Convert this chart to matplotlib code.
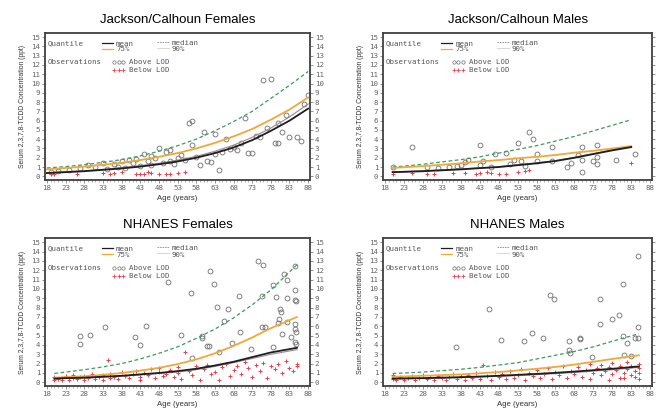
import matplotlib
matplotlib.use('Agg')
import matplotlib.pyplot as plt
from matplotlib.ticker import MultipleLocator

plt.rcParams['font.family'] = ['Liberation Sans', 'DejaVu Sans']
MONO = ['DejaVu Sans Mono']

# ---- quantile curves (at 5-year steps) ----
jcf_age = [18, 23, 28, 33, 38, 43, 48, 53, 58, 63, 68, 73, 78, 83, 88]
jcf_mean = [0.35, 0.45, 0.55, 0.7, 0.85, 1.05, 1.3, 1.6, 2.0, 2.5, 3.1, 3.9, 4.9, 6.0, 7.3]
jcf_median = [0.4, 0.5, 0.6, 0.75, 0.95, 1.15, 1.4, 1.75, 2.15, 2.7, 3.35, 4.2, 5.2, 6.4, 7.8]
jcf_p75 = [0.75, 0.9, 1.05, 1.25, 1.45, 1.75, 2.1, 2.5, 3.0, 3.6, 4.3, 5.1, 6.1, 7.2, 8.5]
jcf_p90 = [0.9, 1.05, 1.25, 1.5, 1.8, 2.2, 2.7, 3.3, 4.0, 4.9, 5.9, 7.0, 8.4, 9.8, 11.3]

jcm_age = [20, 23, 28, 33, 38, 43, 48, 53, 58, 63, 68, 73, 78, 83]
jcm_mean = [0.45, 0.48, 0.55, 0.65, 0.75, 0.88, 1.0, 1.2, 1.4, 1.65, 2.0, 2.4, 2.8, 3.15]
jcm_median = [0.5, 0.53, 0.6, 0.7, 0.8, 0.92, 1.05, 1.25, 1.45, 1.7, 2.05, 2.45, 2.85, 3.2]
jcm_p75 = [0.9, 0.98, 1.1, 1.25, 1.4, 1.6, 1.75, 1.95, 2.1, 2.3, 2.55, 2.75, 3.0, 3.25]
jcm_p90 = [1.0, 1.1, 1.3, 1.55, 1.8, 2.1, 2.5, 2.9, 3.3, 3.8, 4.3, 4.9, 5.5, 6.1]

nhf_age = [20, 23, 28, 33, 38, 43, 48, 53, 58, 63, 68, 73, 78, 85]
nhf_mean = [0.4, 0.45, 0.5, 0.6, 0.7, 0.85, 1.0, 1.2, 1.45, 1.8, 2.2, 2.7, 3.2, 3.7]
nhf_median = [0.35, 0.4, 0.45, 0.55, 0.65, 0.8, 0.95, 1.1, 1.35, 1.7, 2.1, 2.55, 3.0, 3.5]
nhf_p75 = [0.5, 0.55, 0.65, 0.8, 1.0, 1.25, 1.55, 1.95, 2.45, 3.1, 3.9, 4.8, 5.8, 7.0]
nhf_p90 = [0.95, 1.1, 1.35, 1.65, 2.0, 2.5, 3.1, 3.8, 4.7, 5.7, 6.9, 8.3, 9.9, 12.6]

nhm_age = [20, 23, 28, 33, 38, 43, 48, 53, 58, 63, 68, 73, 78, 85]
nhm_mean = [0.4, 0.42, 0.45, 0.5, 0.55, 0.62, 0.7, 0.8, 0.9, 1.02, 1.15, 1.3, 1.45, 1.7]
nhm_median = [0.35, 0.37, 0.4, 0.45, 0.5, 0.56, 0.64, 0.72, 0.82, 0.93, 1.05, 1.2, 1.35, 1.6]
nhm_p75 = [0.6, 0.63, 0.7, 0.77, 0.85, 0.97, 1.1, 1.27, 1.45, 1.65, 1.9, 2.2, 2.5, 2.9]
nhm_p90 = [0.95, 1.0, 1.1, 1.25, 1.4, 1.6, 1.85, 2.1, 2.5, 2.9, 3.3, 3.8, 4.4, 5.2]

# ---- observations (age, ppt) ----
jcf_above = [(19, 0.5), (21, 0.6), (24, 0.7), (27, 0.9), (29, 1.2), (31, 1.0), (33, 1.4), (34, 0.8),
             (36, 1.3), (37, 1.0), (38, 1.6), (39, 0.9), (40, 1.8), (41, 1.4), (42, 1.9), (43, 1.1),
             (44, 2.4), (45, 1.6), (46, 2.2), (46, 1.2), (47, 2.0), (48, 3.0), (49, 1.4), (50, 2.6),
             (51, 2.8), (51, 1.6), (52, 1.3), (53, 2.0), (54, 2.3), (55, 1.8), (56, 5.7), (57, 6.0),
             (57, 3.4), (58, 2.1), (59, 1.2), (60, 4.8), (61, 1.6), (62, 1.5), (63, 4.6), (63, 2.4),
             (64, 0.7), (65, 2.6), (66, 4.0), (67, 2.9), (68, 3.2), (69, 2.8), (70, 3.6), (71, 6.3),
             (72, 2.5), (73, 2.5), (74, 4.4), (75, 4.2), (76, 10.4), (77, 5.2), (78, 10.5), (79, 3.6),
             (80, 3.6), (80, 5.8), (81, 4.8), (82, 6.6), (83, 4.2), (85, 4.2), (86, 3.8), (87, 7.8),
             (88, 8.8)]
jcf_below = [(19, 0.3), (20, 0.25), (26, 0.3), (33, 0.4), (35, 0.3), (36, 0.4), (38, 0.5), (42, 0.3),
             (43, 0.25), (44, 0.3), (45, 0.45), (46, 0.35), (48, 0.3), (50, 0.2), (51, 0.3), (53, 0.4),
             (55, 0.5)]

jcm_above = [(20, 1.0), (25, 3.2), (29, 1.0), (32, 0.9), (35, 1.0), (37, 1.1), (38, 1.2), (39, 1.5),
             (40, 1.8), (43, 3.4), (43, 1.2), (44, 1.6), (46, 1.0), (47, 2.4), (50, 2.5), (51, 1.3),
             (52, 1.8), (53, 3.6), (54, 1.7), (55, 1.1), (56, 4.8), (57, 4.0), (58, 1.6), (58, 2.4),
             (62, 3.2), (62, 1.7), (66, 1.0), (67, 1.4), (69, 2.3), (70, 3.2), (70, 1.8), (70, 0.5),
             (73, 1.6), (74, 3.4), (74, 1.3), (74, 2.1), (79, 1.8), (84, 2.4)]
jcm_below = [(20, 0.3), (25, 0.35), (29, 0.3), (31, 0.2), (36, 0.4), (39, 0.35), (42, 0.3), (43, 0.35),
             (45, 0.5), (46, 0.35), (48, 0.25), (50, 0.3), (53, 0.5), (55, 0.6), (56, 0.7), (83, 1.4)]

nhf_above = [(27, 5.0), (29.5, 5.1), (27, 4.1), (33.5, 5.9), (41.5, 4.9), (43, 4.0), (44.5, 6.0),
             (50.5, 10.7), (54, 5.1), (56.5, 9.6), (57, 2.6), (59.5, 5.0), (59.5, 4.7), (61, 3.9),
             (61.5, 3.9), (61.8, 11.9), (62.7, 10.5), (63.6, 8.1), (64, 3.2), (65.4, 6.6), (66.6, 7.9),
             (67.6, 4.2), (69.6, 9.2), (69.8, 5.4), (72.7, 3.6), (74.6, 13.0), (75.8, 12.6), (75.5, 5.9),
             (76.5, 5.9), (75.7, 9.3), (78.6, 10.4), (78.5, 3.8), (79.5, 9.1), (80.5, 7.9), (80.8, 7.5),
             (80.2, 6.8), (80.0, 6.4), (81.0, 5.2), (81.6, 11.6), (82.4, 11.0), (82.4, 6.5), (82.2, 9.0),
             (84.5, 12.5), (84.5, 9.9), (84.5, 8.8), (84.8, 8.7), (84.5, 6.3), (84.5, 5.7), (84.8, 5.4),
             (84.5, 4.3), (84.8, 4.1), (83.5, 4.9)]
nhf_below = [(20, 0.3), (20, 0.6), (21, 0.4), (22, 0.2), (22, 0.5), (23, 0.7), (24, 0.3), (25, 0.5),
             (25, 0.8), (26, 0.4), (27, 0.6), (28, 0.3), (28, 0.7), (29, 0.5), (30, 0.9), (31, 0.4),
             (32, 0.6), (33, 0.8), (33, 0.3), (34.5, 2.4), (35, 0.5), (35, 0.9), (36, 0.6), (37, 0.4),
             (38, 1.1), (39, 0.7), (40, 0.5), (41, 0.9), (42, 1.2), (43, 0.6), (43, 0.3), (44, 1.0),
             (45, 0.8), (46, 1.4), (47, 0.5), (48, 1.1), (48, 1.5), (49, 0.7), (50, 0.9), (51, 1.3),
             (52, 0.6), (53, 1.0), (53, 1.6), (54, 0.4), (55, 3.3), (56, 1.2), (57, 0.8), (58, 1.7),
             (59, 0.3), (60, 1.4), (61, 1.9), (62, 0.9), (63, 1.1), (64, 0.3), (65, 1.6), (66, 2.0),
             (67, 0.7), (68, 1.3), (69, 1.8), (70, 0.9), (71, 2.2), (72, 1.5), (73, 0.6), (74, 1.9),
             (75, 1.2), (76, 2.1), (77, 0.5), (78, 1.7), (79, 1.4), (80, 2.0), (81, 1.0), (82, 2.3),
             (83, 1.5), (84, 1.2), (85, 2.0), (85, 1.7)]

nhm_above = [(36.7, 3.8), (45.5, 7.9), (48.6, 4.5), (54.7, 4.4), (56.8, 5.3), (59.6, 4.8), (61.5, 9.4),
             (62.7, 8.9), (66.5, 4.4), (66.6, 3.5), (66.8, 3.1), (69.5, 4.8), (69.5, 4.6), (72.7, 2.7),
             (74.7, 8.9), (74.7, 6.2), (78.0, 6.8), (79.9, 7.2), (80.9, 10.5), (80.9, 5.0), (81.0, 2.9),
             (81.8, 4.2), (83.9, 4.8), (84.8, 4.8), (84.8, 13.5), (84.8, 5.9), (83.0, 2.8)]
nhm_below = [(20, 0.8), (20, 0.4), (21, 0.3), (22, 0.6), (23, 0.2), (24, 0.5), (25, 0.7), (26, 0.3),
             (27, 0.5), (28, 0.8), (29, 0.4), (30, 0.6), (31, 0.3), (32, 0.7), (33, 0.5), (34, 0.2),
             (35, 0.6), (36, 0.9), (37, 0.4), (38, 0.7), (39, 0.3), (40, 0.8), (41, 0.5), (42, 1.0),
             (43, 0.4), (44, 1.9), (45, 0.7), (46, 0.3), (47, 1.1), (48, 0.6), (49, 0.9), (50, 0.4),
             (51, 1.2), (52, 0.5), (53, 0.8), (54, 1.4), (55, 0.3), (56, 1.0), (57, 0.7), (58, 1.3),
             (59, 0.5), (60, 0.9), (61, 1.5), (62, 0.4), (63, 1.1), (64, 0.8), (65, 1.7), (66, 0.5),
             (67, 1.2), (68, 0.9), (69, 1.6), (70, 0.6), (71, 1.3), (72, 2.0), (72, 0.4), (73, 1.0),
             (74, 1.5), (75, 0.8), (75, 1.9), (76, 1.2), (77, 0.3), (77, 1.6), (78, 0.9), (78, 2.1),
             (79, 1.3), (80, 0.5), (80, 1.7), (81, 1.0), (81, 0.5), (82, 1.4), (82, 2.2), (83, 0.8),
             (83, 1.8), (84, 1.2), (84, 0.6), (85, 2.0), (85, 1.5), (85, 0.4), (85, 1.0)]

x_ticks = list(range(18, 89, 5))
y_ticks = list(range(0, 16))

C_MEAN = '#1e1e1e'
C_MED = '#9a8890'
C_P75 = '#f0a838'
C_P90 = '#3e9a5e'
C_ABOVE = '#6e6e6e'
C_BELOW = '#e8404e'


def legend_block(ax):
    tr = ax.transAxes
    kw = dict(transform=tr, fontsize=5.3, color='#555555', family=MONO, va='center')
    ax.text(0.011, 0.93, 'Quantile', **kw)
    ax.plot([0.215, 0.257], [0.935, 0.935], transform=tr, color=C_MEAN, lw=0.9)
    ax.text(0.268, 0.925, 'mean', **kw)
    ax.plot([0.423, 0.468], [0.94, 0.94], transform=tr, color=C_MED, lw=0.6, ls=(0, (2, 1)))
    ax.text(0.479, 0.93, 'median', **kw)
    ax.plot([0.215, 0.257], [0.893, 0.893], transform=tr, color=C_P75, lw=0.9)
    ax.text(0.268, 0.888, '75%', **kw)
    ax.plot([0.423, 0.468], [0.898, 0.898], transform=tr, color='#c8d8c8', lw=0.6)
    ax.text(0.479, 0.888, '90%', **kw)
    ax.text(0.011, 0.8, 'Observations', **kw)
    ax.plot([0.262, 0.279, 0.296], [0.8] * 3, transform=tr, ls='none', marker='o', ms=2.4,
            mfc='none', mec=C_ABOVE, mew=0.5)
    ax.text(0.318, 0.8, 'Above LOD', **kw)
    ax.plot([0.262, 0.279, 0.296], [0.745] * 3, transform=tr, ls='none', marker='+', ms=2.8,
            color=C_BELOW, mew=0.6)
    ax.text(0.318, 0.745, 'Below LOD', **kw)


def panel(ax, title, age, mean, median, p75, p90, above, below, right_labels):
    ax.plot([a for a, v in above], [v for a, v in above], ls='none', marker='o', ms=3.5,
            mfc='none', mec=C_ABOVE, mew=0.6, zorder=2)
    ax.plot([a for a, v in below], [v for a, v in below], ls='none', marker='+', ms=3.4,
            color=C_BELOW, mew=0.7, zorder=2)
    ax.plot(age, p90, color=C_P90, lw=0.9, ls=(0, (3, 2)), zorder=3)
    ax.plot(age, p75, color=C_P75, lw=1.3, zorder=3)
    ax.plot(age, median, color=C_MED, lw=0.8, zorder=3)
    ax.plot(age, mean, color=C_MEAN, lw=1.3, zorder=4)

    ax.set_xlim(17.5, 88.5)
    ax.set_ylim(-0.4, 15.45)
    ax.set_xticks(x_ticks)
    ax.set_yticks(y_ticks)
    ax.xaxis.set_minor_locator(MultipleLocator(1))
    ax.tick_params(axis='both', which='major', direction='out', length=2, width=0.5,
                   color='#666666', labelsize=5.4, labelcolor='#666666', pad=1.5)
    ax.tick_params(axis='x', which='minor', direction='out', length=1.2, width=0.4, color='#777777')
    ax.tick_params(axis='y', right=True, labelright=right_labels)
    for lab in ax.get_xticklabels() + ax.get_yticklabels():
        lab.set_family(MONO)
    for s in ax.spines.values():
        s.set_color('#404040')
        s.set_linewidth(1.3)
    ax.set_title(title, fontsize=9.5, pad=7)
    ax.set_xlabel('Age (years)', fontsize=5.6, labelpad=3, color='#333333')
    ax.set_ylabel('Serum 2,3,7,8-TCDD Concentration (ppt)', fontsize=4.9, labelpad=4, color='#333333')
    legend_block(ax)


fig = plt.figure(figsize=(6.56, 4.12), dpi=100)
ax1 = fig.add_axes([0.0686, 0.563, 0.404, 0.357])
ax2 = fig.add_axes([0.584, 0.563, 0.41, 0.357])
ax3 = fig.add_axes([0.0686, 0.063, 0.404, 0.359])
ax4 = fig.add_axes([0.584, 0.063, 0.41, 0.359])

panel(ax1, 'Jackson/Calhoun Females', jcf_age, jcf_mean, jcf_median, jcf_p75, jcf_p90, jcf_above, jcf_below, True)
panel(ax2, 'Jackson/Calhoun Males', jcm_age, jcm_mean, jcm_median, jcm_p75, jcm_p90, jcm_above, jcm_below, False)
panel(ax3, 'NHANES Females', nhf_age, nhf_mean, nhf_median, nhf_p75, nhf_p90, nhf_above, nhf_below, True)
panel(ax4, 'NHANES Males', nhm_age, nhm_mean, nhm_median, nhm_p75, nhm_p90, nhm_above, nhm_below, False)

fig.savefig('out.png', dpi=100)
